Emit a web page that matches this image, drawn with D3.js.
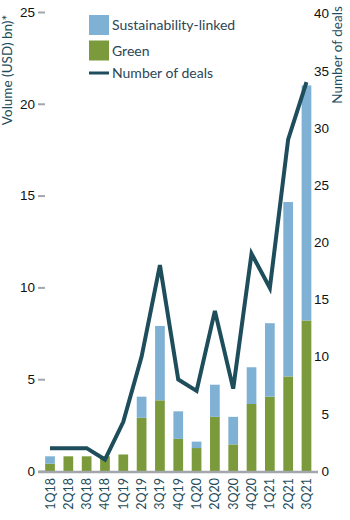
<!DOCTYPE html>
<html>
<head>
<meta charset="utf-8">
<script src="https://cdn.jsdelivr.net/npm/d3@7"></script>
<style>
  body { margin: 0; background: #fff; }
  svg { font-family: Lato, "Open Sans", sans-serif; }
</style>
</head>
<body>
<svg id="chart"></svg>
<script>
const quarters = ["1Q18","2Q18","3Q18","4Q18","1Q19","2Q19","3Q19","4Q19","1Q20","2Q20","3Q20","4Q20","1Q21","2Q21","3Q21"];
const green = [0.4, 0.8, 0.8, 0.8, 0.9, 2.9, 3.85, 1.75, 1.25, 2.95, 1.45, 3.65, 4.05, 5.15, 8.2];
const sustainabilityLinked = [0.4, 0, 0, 0, 0, 1.15, 4.05, 1.5, 0.35, 1.75, 1.5, 2.0, 4.0, 9.5, 12.8];
const deals = [2, 2, 2, 1, 4.3, 10, 18, 8, 7, 14, 7.2, 19, 16, 29, 34];
const leftTicks = [0, 5, 10, 15, 20, 25];
const rightTicks = [0, 5, 10, 15, 20, 25, 30, 35, 40];

const W = 350, H = 520;
const C = { blue: "#7fb1d5", green: "#7a9a3b", line: "#1e4d5c", axis: "#a3a7ab", text: "#1e4d5c" };

const svg = d3.select("#chart").attr("width", W).attr("height", H);

const x = d3.scaleBand().domain(quarters).range([41.5, 315]).paddingInner(0.47).paddingOuter(0.2);
const yL = d3.scaleLinear().domain([0, 25]).range([471, 12]);
const yR = d3.scaleLinear().domain([0, 40]).range([471, 13.5]);

const rows = quarters.map((q, i) => ({ q, g: green[i], s: sustainabilityLinked[i], n: deals[i] }));

// bars
svg.append("g").selectAll("rect.g").data(rows).join("rect")
  .attr("x", d => x(d.q)).attr("width", x.bandwidth())
  .attr("y", d => yL(d.g)).attr("height", d => yL(0) - yL(d.g))
  .attr("fill", C.green);
svg.append("g").selectAll("rect.s").data(rows.filter(d => d.s > 0)).join("rect")
  .attr("x", d => x(d.q)).attr("width", x.bandwidth())
  .attr("y", d => yL(d.g + d.s)).attr("height", d => yL(d.g) - yL(d.g + d.s))
  .attr("fill", C.blue);

// baseline
svg.append("line").attr("x1", 38).attr("x2", 318).attr("y1", yL(0) + 1).attr("y2", yL(0) + 1)
  .attr("stroke", C.axis).attr("stroke-width", 2.5);

// line
const line = d3.line().x(d => x(d.q) + x.bandwidth() / 2).y(d => yR(d.n));
svg.append("path").datum(rows).attr("d", line)
  .attr("fill", "none").attr("stroke", C.line).attr("stroke-width", 4).attr("stroke-linejoin", "miter");

// left axis
const la = svg.append("g").attr("transform", "translate(45,0)")
  .call(d3.axisLeft(yL).tickValues(leftTicks).tickSize(7).tickPadding(3));
la.select(".domain").remove();
la.selectAll(".tick line").attr("stroke", C.axis).attr("stroke-width", 2);
la.selectAll(".tick text").attr("font-size", 13.5).attr("fill", "#111");

// right axis (labels right-aligned)
const ra = svg.append("g").attr("transform", "translate(329,0)")
  .call(d3.axisRight(yR).tickValues(rightTicks).tickSize(0).tickPadding(0));
ra.select(".domain").remove();
ra.selectAll(".tick text").attr("text-anchor", "end").attr("font-size", 13.5).attr("fill", "#111");

// x labels
svg.append("g").selectAll("text").data(quarters).join("text")
  .attr("transform", d => `translate(${x(d) + x.bandwidth() / 2 + 4.5},478) rotate(-90)`)
  .attr("text-anchor", "end").attr("font-size", 12.5).attr("fill", C.text)
  .text(d => d);

// axis titles
svg.append("text").attr("transform", "translate(12,70) rotate(-90)")
  .attr("text-anchor", "middle").attr("font-size", 13.5).attr("fill", C.text)
  .text("Volume (USD) bn)*");
svg.append("text").attr("transform", "translate(342,55) rotate(-90)")
  .attr("text-anchor", "middle").attr("font-size", 13.5).attr("fill", C.text)
  .text("Number of deals");

// legend
const legend = [
  { label: "Sustainability-linked", type: "rect", color: C.blue },
  { label: "Green", type: "rect", color: C.green },
  { label: "Number of deals", type: "line", color: C.line }
];
const lg = svg.append("g").selectAll("g").data(legend).join("g")
  .attr("transform", (d, i) => `translate(89,${15 + i * 25.5})`);
lg.filter(d => d.type === "rect").append("rect")
  .attr("width", 20).attr("height", 20).attr("fill", d => d.color);
lg.filter(d => d.type === "line").append("line")
  .attr("x1", 0).attr("x2", 20).attr("y1", 7).attr("y2", 7)
  .attr("stroke", d => d.color).attr("stroke-width", 3);
lg.append("text").attr("x", 23).attr("y", (d, i) => i < 2 ? 15 : 12)
  .attr("font-size", 14).attr("fill", "#2b4655").text(d => d.label);
</script>
</body>
</html>
